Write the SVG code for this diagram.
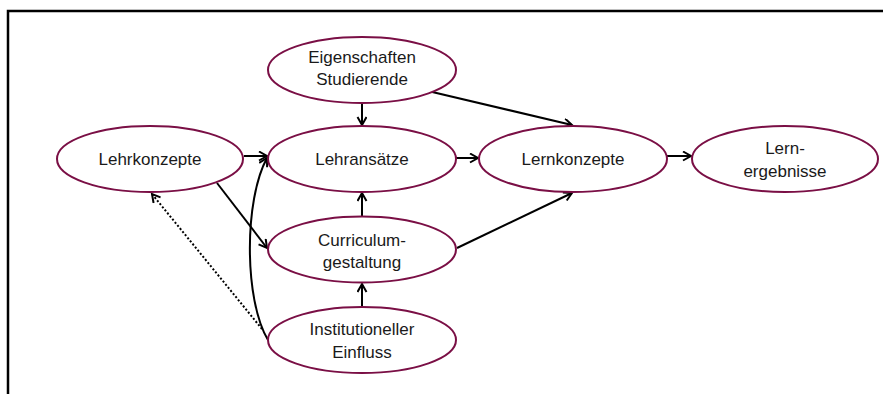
<svg xmlns="http://www.w3.org/2000/svg" width="883" height="394" viewBox="0 0 883 394">
<style>
.node ellipse{fill:#fff;stroke:#7a0f45;stroke-width:2}
.node text{font-family:"Liberation Sans",Arial,sans-serif;font-size:17px;fill:#1a1a1a;text-anchor:middle}
.conn path{fill:none;stroke:#000;stroke-width:2}
.dot{stroke-dasharray:2 2}
</style>
<defs>
<marker id="ah" markerUnits="userSpaceOnUse" markerWidth="12" markerHeight="12" refX="9" refY="5" orient="auto">
<path d="M1,0.5 L9,5 L1,9.5" fill="none" stroke="#000" stroke-width="2"/>
</marker>
</defs>
<rect width="883" height="394" fill="#fff"/>
<path d="M8,394 L8,11 L883,11" fill="none" stroke="#000" stroke-width="2.5"/>
<g class="conn">
<path d="M244,156 L267,156" marker-end="url(#ah)"/>
<path d="M217,183 L267,248" marker-end="url(#ah)"/>
<path class="dot" d="M262,329 L152,194" marker-end="url(#ah)"/>
<path d="M268,340 C244,300 244,200 267,158" marker-end="url(#ah)"/>
<path d="M362,104 L362,125" marker-end="url(#ah)"/>
<path d="M428,91 L572,125" marker-end="url(#ah)"/>
<path d="M456,158 L478,158" marker-end="url(#ah)"/>
<path d="M667,156 L691,156" marker-end="url(#ah)"/>
<path d="M362,216 L362,193" marker-end="url(#ah)"/>
<path d="M362,307 L362,284" marker-end="url(#ah)"/>
<path d="M457,248 L572,193" marker-end="url(#ah)"/>
</g>
<g id="eigenschaften" class="node"><ellipse cx="362" cy="70" rx="94" ry="33"/><text x="362" y="63">Eigenschaften</text><text x="362" y="85">Studierende</text></g>
<g id="lehrkonzepte" class="node"><ellipse cx="150" cy="159" rx="93" ry="33"/><text x="150" y="165">Lehrkonzepte</text></g>
<g id="lehransaetze" class="node"><ellipse cx="362" cy="159" rx="94" ry="33"/><text x="362" y="165">Lehransätze</text></g>
<g id="curriculum" class="node"><ellipse cx="362" cy="249.5" rx="94" ry="33"/><text x="362" y="246">Curriculum-</text><text x="362" y="268">gestaltung</text></g>
<g id="institutionell" class="node"><ellipse cx="362" cy="340" rx="94" ry="33"/><text x="362" y="335">Institutioneller</text><text x="362" y="358">Einfluss</text></g>
<g id="lernkonzepte" class="node"><ellipse cx="573" cy="159" rx="94" ry="33"/><text x="573" y="165">Lernkonzepte</text></g>
<g id="lernergebnisse" class="node"><ellipse cx="785" cy="159" rx="93" ry="33"/><text x="785" y="154">Lern-</text><text x="785" y="177">ergebnisse</text></g>
</svg>
